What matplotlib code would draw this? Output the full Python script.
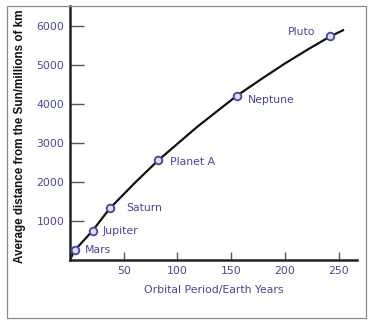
import matplotlib
matplotlib.use("Agg")
import matplotlib.pyplot as plt
from matplotlib.patches import Rectangle

# planets (orbital period in years, distance in millions of km)
planets = ["Mars", "Jupiter", "Saturn", "Planet A", "Neptune", "Pluto"]
period = [4.5, 21, 37, 82, 155, 242]
distance = [250, 750, 1320, 2550, 4200, 5720]

# points along the drawn curve
curve_x = [0.7, 4.5, 21, 37, 60, 82, 118, 155, 178, 200, 222, 242, 254]
curve_y = [50, 250, 750, 1320, 1965, 2550, 3400, 4200, 4630, 5030, 5400, 5720, 5880]

xticks = [50, 100, 150, 200, 250]
yticks = [1000, 2000, 3000, 4000, 5000, 6000]

# label offsets in pixels and alignment
offsets = [(10, 0, "left"), (10, 0, "left"), (16, 0, "left"),
           (12, -2, "left"), (11, -4, "left"), (-15, 4, "right")]

BLUE = "#4646a0"
W, H = 374, 326

fig = plt.figure(figsize=(W / 100, H / 100), dpi=100)
fig.patch.set_facecolor("white")

# grey frame round the whole chart
fig.add_artist(Rectangle((7 / W, (H - 318) / H), (366 - 7) / W, (318 - 6) / H,
                         transform=fig.transFigure, fill=False,
                         edgecolor="#8a8a8a", linewidth=0.9))

ax = fig.add_axes([70 / W, (H - 260) / H, (357 - 70) / W, (260 - 6) / H])
ax.set_xlim(0, 267)
ax.set_ylim(0, 6500)

ax.plot(curve_x, curve_y, color="#111111", linewidth=1.6, zorder=2)
ax.plot(period, distance, linestyle="none", marker="o", markersize=5.5,
        markerfacecolor="#dcdcf4", markeredgecolor=BLUE, markeredgewidth=1.3,
        zorder=3)

for name, px, py, (dx, dy, ha) in zip(planets, period, distance, offsets):
    ax.annotate(name, (px, py), xytext=(dx, dy), textcoords="offset pixels",
                ha=ha, va="center", color=BLUE, fontsize=7.8)

for s in ["top", "right"]:
    ax.spines[s].set_visible(False)
for s in ["left", "bottom"]:
    ax.spines[s].set_linewidth(1.8)
    ax.spines[s].set_color("#222222")

ax.set_xticks(xticks)
ax.set_yticks(yticks)
ax.tick_params(axis="y", direction="in", length=10, width=1, color="#555555",
               labelcolor=BLUE, labelsize=7.8, pad=4)
ax.tick_params(axis="x", direction="in", length=5.8, width=1, color="#555555",
               labelcolor=BLUE, labelsize=7.8, pad=4)

ax.set_xlabel("Orbital Period/Earth Years", color=BLUE, fontsize=7.8, labelpad=7)

fig.text(20 / W, (H - 263) / H, "Average distance from the Sun/millions of km",
         rotation=90, ha="center", va="bottom", fontsize=8.4,
         fontweight="bold", family="Liberation Sans", color="#111111")

fig.savefig("out.png", dpi=100)
